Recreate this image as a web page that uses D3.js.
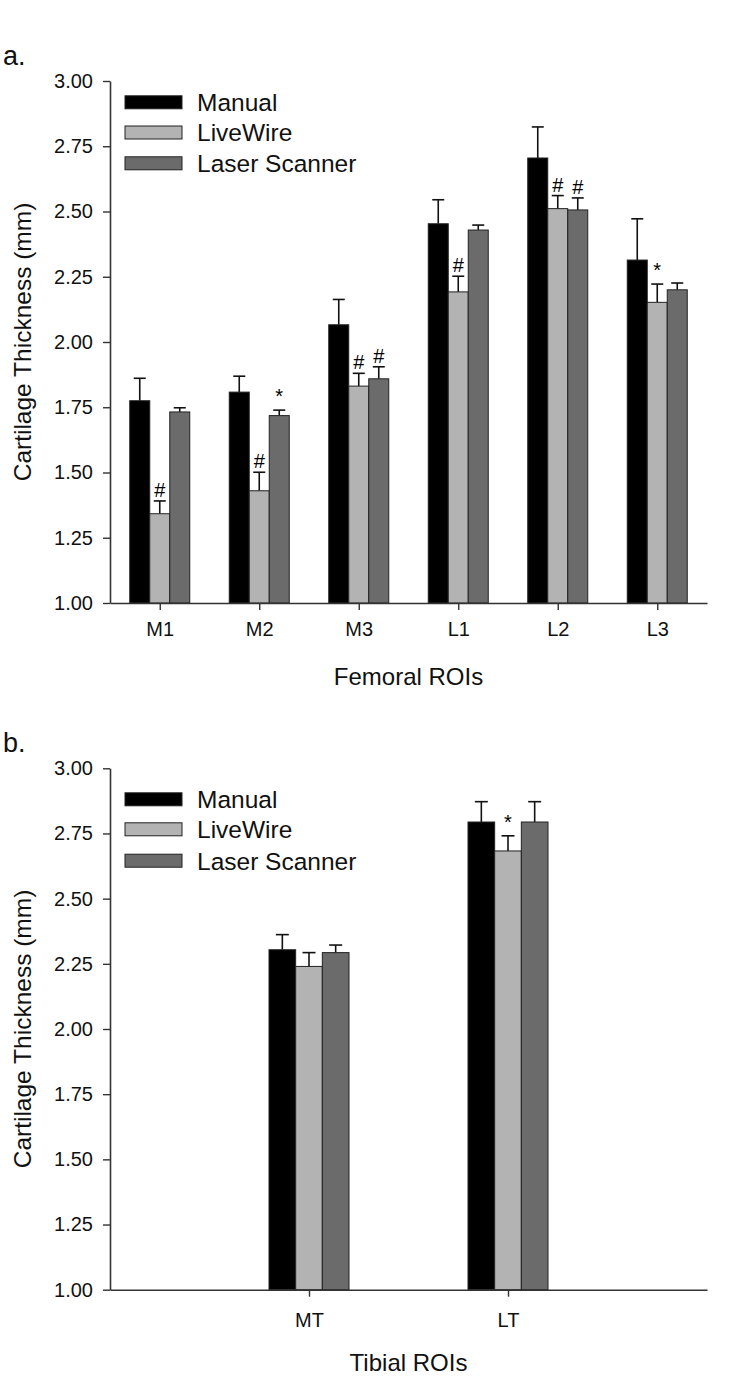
<!DOCTYPE html>
<html>
<head>
<meta charset="utf-8">
<script src="https://cdn.jsdelivr.net/npm/d3@7"></script>
<style>
  html, body { margin: 0; padding: 0; background: #fff; }
  svg { display: block; font-family: "Liberation Sans", Arial, Helvetica, sans-serif; }
</style>
</head>
<body>
<svg id="chart" width="750" height="1383"></svg>
<script>
// ---------- Data ----------
const seriesNames = ["Manual", "LiveWire", "Laser Scanner"];
const seriesColors = ["#000000", "#b3b3b3", "#6b6b6b"];
const yTicks = [1.00, 1.25, 1.50, 1.75, 2.00, 2.25, 2.50, 2.75, 3.00];

// Panel a: femoral ROIs
const femoralCategories = ["M1", "M2", "M3", "L1", "L2", "L3"];
const femoralManual      = [1.775, 1.808, 2.066, 2.453, 2.705, 2.314];
const femoralManualErr   = [0.086, 0.061, 0.097, 0.092, 0.119, 0.158];
const femoralLiveWire    = [1.342, 1.430, 1.831, 2.192, 2.511, 2.152];
const femoralLiveWireErr = [0.049, 0.071, 0.049, 0.060, 0.050, 0.070];
const femoralLaser       = [1.732, 1.718, 1.859, 2.429, 2.506, 2.200];
const femoralLaserErr    = [0.016, 0.021, 0.046, 0.019, 0.046, 0.026];
const femoralManualMarks   = ["", "", "", "", "", ""];
const femoralLiveWireMarks = ["#", "#", "#", "#", "#", "*"];
const femoralLaserMarks    = ["", "*", "#", "", "#", ""];

// Panel b: tibial ROIs
const tibialCategories = ["MT", "LT"];
const tibialManual      = [2.304, 2.794];
const tibialManualErr   = [0.058, 0.078];
const tibialLiveWire    = [2.240, 2.683];
const tibialLiveWireErr = [0.053, 0.058];
const tibialLaser       = [2.293, 2.794];
const tibialLaserErr    = [0.029, 0.078];
const tibialManualMarks   = ["", ""];
const tibialLiveWireMarks = ["", "*"];
const tibialLaserMarks    = ["", ""];

// ---------- Drawing ----------
const svg = d3.select("#chart");

function drawPanel(opt) {
  const g = svg.append("g");
  const x = d3.scalePoint().domain(opt.categories).range([opt.left, opt.right]).padding(opt.xPadding);
  const y = d3.scaleLinear().domain([1, 3]).range([opt.bottom, opt.top]);
  const inner = d3.scaleBand().domain(seriesNames).range([-opt.groupWidth / 2, opt.groupWidth / 2]).padding(0);

  const series = [
    { name: seriesNames[0], values: opt.manual, errs: opt.manualErr, marks: opt.manualMarks },
    { name: seriesNames[1], values: opt.liveWire, errs: opt.liveWireErr, marks: opt.liveWireMarks },
    { name: seriesNames[2], values: opt.laser, errs: opt.laserErr, marks: opt.laserMarks }
  ];
  const color = d3.scaleOrdinal().domain(seriesNames).range(seriesColors);

  const rows = [];
  series.forEach(s => {
    opt.categories.forEach((c, i) => {
      rows.push({ series: s.name, cat: c, v: s.values[i], e: s.errs[i], m: s.marks[i] });
    });
  });

  const bw = inner.bandwidth();
  const eb = g.append("g").attr("stroke", "#111").attr("stroke-width", 1.6).attr("fill", "none");
  rows.forEach(r => {
    const cx = x(r.cat) + inner(r.series) + bw / 2;
    eb.append("line").attr("x1", cx).attr("x2", cx).attr("y1", y(r.v)).attr("y2", y(r.v + r.e));
    eb.append("line").attr("x1", cx - opt.capWidth / 2).attr("x2", cx + opt.capWidth / 2)
      .attr("y1", y(r.v + r.e)).attr("y2", y(r.v + r.e));
  });

  g.append("g").selectAll("rect").data(rows).join("rect")
    .attr("x", d => x(d.cat) + inner(d.series))
    .attr("y", d => y(d.v))
    .attr("width", bw)
    .attr("height", d => y(1) - y(d.v))
    .attr("fill", d => color(d.series))
    .attr("stroke", "#222")
    .attr("stroke-width", 1);

  // significance marks
  g.append("g").selectAll("text").data(rows.filter(r => r.m)).join("text")
    .attr("x", d => x(d.cat) + inner(d.series) + bw / 2)
    .attr("y", d => y(d.v + d.e) - (d.m === "*" ? 7 : 4))
    .attr("text-anchor", "middle")
    .attr("font-family", "\"Liberation Sans\", Arial, sans-serif")
    .attr("font-size", 20)
    .attr("fill", "#000")
    .text(d => d.m);

  // axes
  const yAxis = g.append("g").attr("transform", `translate(${opt.left},0)`)
    .call(d3.axisLeft(y).tickValues(yTicks).tickFormat(d3.format(".2f")).tickSize(7).tickSizeOuter(0).tickPadding(10));
  const xAxis = g.append("g").attr("transform", `translate(0,${opt.bottom})`)
    .call(d3.axisBottom(x).tickSize(7).tickSizeOuter(0).tickPadding(opt.xTickPad));
  [yAxis, xAxis].forEach(a => {
    a.select(".domain").attr("stroke", "#333").attr("stroke-width", 1.6);
    a.selectAll(".tick line").attr("stroke", "#333").attr("stroke-width", 1.4);
    a.selectAll(".tick text").attr("font-size", 20).attr("fill", "#111")
      .attr("font-family", "\"Liberation Sans\", Arial, sans-serif");
  });

  // axis titles
  g.append("text")
    .attr("transform", "rotate(-90)")
    .attr("x", -(opt.top + opt.bottom) / 2)
    .attr("y", 31)
    .attr("text-anchor", "middle")
    .attr("font-size", 24.5)
    .attr("fill", "#111")
    .text("Cartilage Thickness (mm)");
  g.append("text")
    .attr("x", (opt.left + opt.right) / 2)
    .attr("y", opt.xTitleY)
    .attr("text-anchor", "middle")
    .attr("font-size", 24)
    .attr("fill", "#111")
    .text(opt.xTitle);

  // panel label
  g.append("text").attr("x", 3).attr("y", opt.labelY)
    .attr("font-size", 27).attr("fill", "#111").text(opt.label);

  // legend
  const lg = g.append("g");
  seriesNames.forEach((n, i) => {
    const cy = opt.legendRows[i];
    lg.append("rect").attr("x", 125).attr("y", cy - 6.5).attr("width", 57).attr("height", 13)
      .attr("fill", color(n)).attr("stroke", "#222").attr("stroke-width", 1);
    lg.append("text").attr("x", 197).attr("y", cy).attr("dy", "0.36em")
      .attr("font-size", 24.5).attr("fill", "#111").text(n);
  });
}

drawPanel({
  categories: femoralCategories,
  manual: femoralManual, manualErr: femoralManualErr, manualMarks: femoralManualMarks,
  liveWire: femoralLiveWire, liveWireErr: femoralLiveWireErr, liveWireMarks: femoralLiveWireMarks,
  laser: femoralLaser, laserErr: femoralLaserErr, laserMarks: femoralLaserMarks,
  left: 110, right: 707, top: 81, bottom: 603, xPadding: 0.5,
  groupWidth: 60, capWidth: 12, xTickPad: 12,
  xTitle: "Femoral ROIs", xTitleY: 685, label: "a.", labelY: 65,
  legendRows: [102.3, 132.5, 163.3]
});

drawPanel({
  categories: tibialCategories,
  manual: tibialManual, manualErr: tibialManualErr, manualMarks: tibialManualMarks,
  liveWire: tibialLiveWire, liveWireErr: tibialLiveWireErr, liveWireMarks: tibialLiveWireMarks,
  laser: tibialLaser, laserErr: tibialLaserErr, laserMarks: tibialLaserMarks,
  left: 110, right: 707, top: 768.3, bottom: 1289.7, xPadding: 1,
  groupWidth: 80, capWidth: 13, xTickPad: 16,
  xTitle: "Tibial ROIs", xTitleY: 1371, label: "b.", labelY: 751.7,
  legendRows: [799.3, 829.3, 860.7]
});
</script>
</body>
</html>
